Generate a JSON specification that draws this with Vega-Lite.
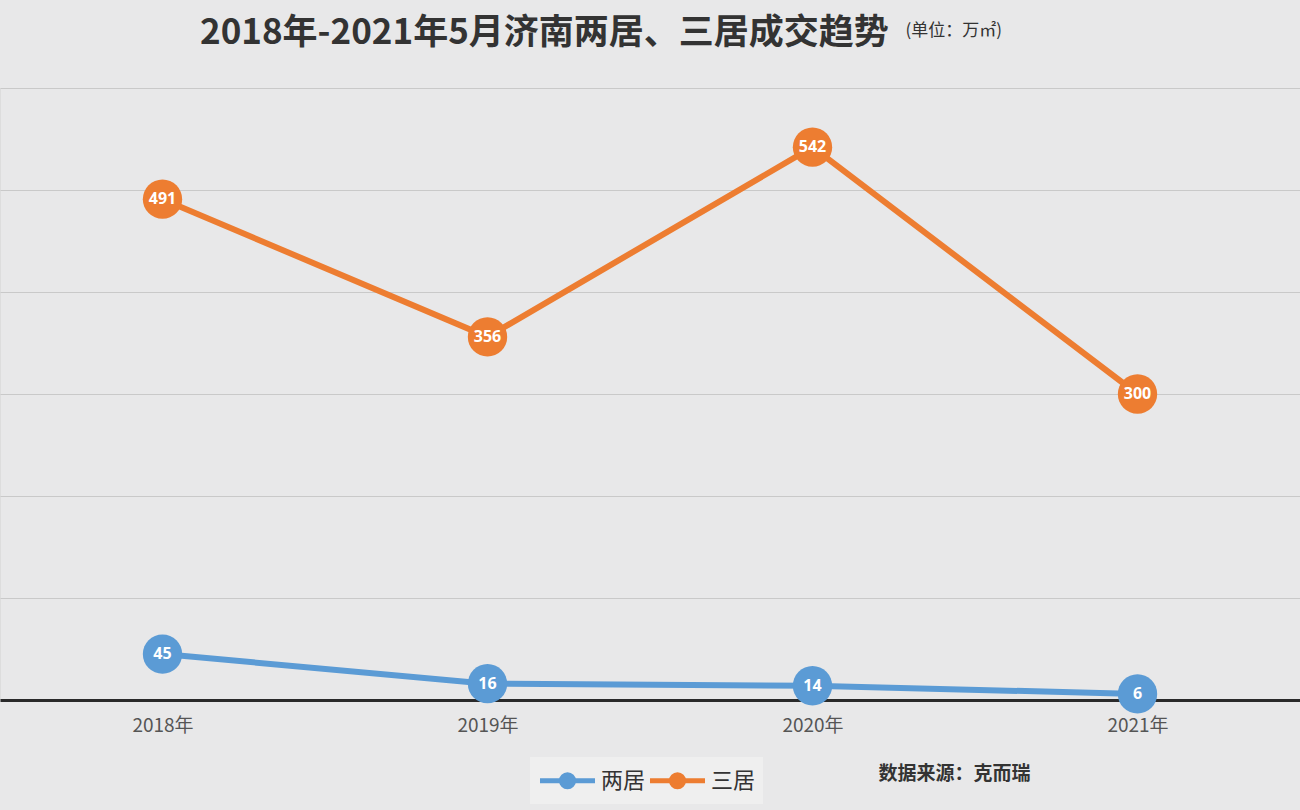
{
  "$schema": "https://vega.github.io/schema/vega-lite/v6.json",
  "autosize": {"type": "none"},
  "width": 1300,
  "height": 612,
  "padding": {"left": 0, "top": 88, "right": 0, "bottom": 110},
  "background": "#e8e8e9",
  "title": {
    "text": "2018年-2021年5月济南两居、三居成交趋势",
    "anchor": "start",
    "frame": "group",
    "dx": 200,
    "offset": -30,
    "font": "Noto Sans CJK SC",
    "fontSize": 35,
    "fontWeight": "bold",
    "color": "#333333"
  },
  "data": {
    "values": [
      {"year": "2018年", "type": "两居", "value": 45},
      {"year": "2019年", "type": "两居", "value": 16},
      {"year": "2020年", "type": "两居", "value": 14},
      {"year": "2021年", "type": "两居", "value": 6},
      {"year": "2018年", "type": "三居", "value": 491},
      {"year": "2019年", "type": "三居", "value": 356},
      {"year": "2020年", "type": "三居", "value": 542},
      {"year": "2021年", "type": "三居", "value": 300}
    ]
  },
  "encoding": {
    "x": {
      "field": "year",
      "type": "ordinal",
      "scale": {"type": "point", "padding": 0.5},
      "axis": {
        "title": "数据来源：克而瑞",
        "titleX": 878,
        "titleY": 73,
        "titleAlign": "left",
        "titleBaseline": "middle",
        "titleFont": "Noto Sans CJK SC",
        "titleFontSize": 19,
        "titleFontWeight": "bold",
        "titleColor": "#333333",
        "labelAngle": 0,
        "labelFont": "Noto Sans CJK SC",
        "labelFontSize": 19,
        "labelColor": "#555555",
        "labelPadding": 16,
        "ticks": false,
        "domain": true,
        "domainColor": "#2a2a2a",
        "domainWidth": 3,
        "grid": false
      }
    },
    "y": {
      "field": "value",
      "type": "quantitative",
      "scale": {"domain": [0, 600], "nice": false},
      "axis": {
        "title": "(单位：万㎡)",
        "titleAngle": 0,
        "titleX": 905,
        "titleY": -58,
        "titleAlign": "left",
        "titleBaseline": "middle",
        "titleFont": "Noto Sans CJK SC",
        "titleFontSize": 17,
        "titleFontWeight": "normal",
        "titleColor": "#333333",
        "values": [100, 200, 300, 400, 500, 600],
        "labels": false,
        "ticks": false,
        "domain": false,
        "grid": true,
        "gridColor": "#c9c9c9",
        "gridWidth": 1
      }
    },
    "color": {
      "field": "type",
      "type": "nominal",
      "scale": {"domain": ["两居", "三居"], "range": ["#5b9bd5", "#ed7d31"]},
      "legend": {
        "title": null,
        "orient": "none",
        "legendX": 530,
        "legendY": 669,
        "direction": "horizontal",
        "fillColor": "#efefef",
        "padding": 7,
        "symbolType": "M-2,0H2M-0.44,0a0.44,0.44 0 1,0 0.88,0a0.44,0.44 0 1,0 -0.88,0",
        "symbolSize": 756,
        "symbolOffset": 14,
        "symbolStrokeWidth": 5,
        "labelFont": "Noto Sans CJK SC",
        "labelFontSize": 22,
        "labelColor": "#333333",
        "labelOffset": 17,
        "columnPadding": -6
      }
    }
  },
  "layer": [
    {"mark": {"type": "line", "strokeWidth": 6}},
    {"mark": {"type": "point", "filled": true, "size": 1550, "opacity": 1}},
    {
      "mark": {"type": "text", "color": "white", "fontSize": 16, "fontWeight": "bold", "font": "Open Sans", "baseline": "middle", "align": "center"},
      "encoding": {"text": {"field": "value", "type": "quantitative"}, "color": {"value": "white"}}
    }
  ]
}
